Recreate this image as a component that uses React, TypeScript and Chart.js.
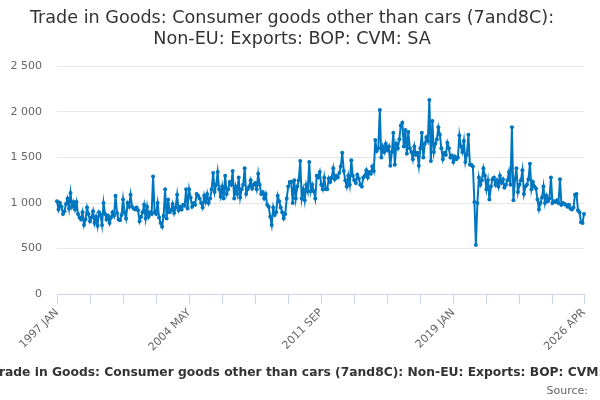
import { useEffect, useRef } from "react"
import { Chart, registerables } from "chart.js"

Chart.register(...registerables)

const TITLE_LINES = [
  "Trade in Goods: Consumer goods other than cars (7and8C):",
  "Non-EU: Exports: BOP: CVM: SA",
]
const CAPTION = "Trade in Goods: Consumer goods other than cars (7and8C): Non-EU: Exports: BOP: CVM: SA"
const SOURCE = "Source:"

const FIRST_YEAR = 1997
const MONTHS = ["JAN", "FEB", "MAR", "APR", "MAY", "JUN", "JUL", "AUG", "SEP", "OCT", "NOV", "DEC"]

// monthly values, Jan 1997 .. Apr 2026 (one row per year)
const exportsValues = [
  1020, 930, 1000, 960, 880, 910, 990, 1050, 940, 1110, 960, 1010,
  930, 1010, 880, 840, 820, 900, 760, 820, 950, 880, 800, 840,
  910, 780, 850, 750, 900, 870, 760, 1000, 880, 820, 860, 780,
  840, 900, 860, 1080, 890, 820, 810, 870, 1040, 900, 830, 1000,
  960, 1090, 960, 940, 930, 950, 920, 800, 850, 900, 980, 830,
  960, 850, 900, 880, 1290, 900, 880, 1000, 840, 780, 740, 860,
  1150, 830, 1040, 900, 920, 990, 890, 950, 1090, 920, 960, 930,
  980, 970, 1150, 940, 1150, 1060, 960, 1000, 980, 1100, 1080, 1050,
  1000, 950, 1080, 1010, 1100, 1000, 1050, 1150, 1330, 1120, 1200, 1340,
  1150, 1070, 1180, 1050, 1300, 1100, 1150, 1230, 1200, 1350, 1050, 1180,
  1100, 1280, 1060, 1150, 1200, 1380, 1100, 1150, 1180, 1250, 1160, 1200,
  1220, 1150, 1320, 1200, 1100, 1120, 1050, 1100, 980, 960, 850, 760,
  950, 870, 900, 1080, 1020, 950, 900, 830, 880, 1050, 1180, 1230,
  1230, 1000, 1250, 1050, 1180, 1250, 1460, 1050, 1150, 1030, 1200, 1130,
  1450, 1130, 1200, 1130, 1050, 1300, 1280, 1340, 1200, 1150, 1280, 1150,
  1150, 1270, 1230, 1280, 1380, 1260, 1300, 1280, 1330, 1400, 1550, 1350,
  1250, 1180, 1300, 1200, 1470, 1300, 1250, 1220, 1310, 1270, 1200, 1180,
  1280, 1300, 1360, 1280, 1340, 1320, 1400, 1350, 1690, 1570, 1600, 2020,
  1500, 1620, 1560, 1650, 1580, 1620, 1410, 1560, 1770, 1420, 1650, 1600,
  1700, 1850, 1880, 1620, 1800, 1540, 1780, 1600, 1560, 1480, 1620, 1530,
  1550, 1410, 1600, 1770, 1500, 1650, 1720, 1680, 2130, 1460, 1900, 1560,
  1650, 1700, 1830, 1750, 1600, 1480, 1550, 1530, 1660, 1600, 1500, 1520,
  1450, 1510, 1480, 1500, 1740, 1620, 1560, 1680, 1450, 1530, 1750, 1420,
  1420, 1400, 1010, 540, 1000, 1280, 1200, 1250, 1380, 1300, 1150, 1250,
  1040, 1180, 1260, 1280, 1200, 1250, 1180, 1300, 1220, 1260, 1170, 1200,
  1250, 1340, 1200, 1830, 1030, 1260, 1380, 1120, 1200, 1250, 1360, 1100,
  1180, 1200, 1260, 1430, 1150, 1230, 1180, 1160, 1040, 930, 1000, 1060,
  1180, 1000, 1080, 1020, 1050, 1280, 1000, 1020, 1010, 1030, 1000, 1260,
  980, 1000, 990, 980, 960, 980, 940, 930, 950, 1090, 1100, 920,
  900, 790, 780, 880,
]

const monthLabels = exportsValues.map(
  (_, i) => `${FIRST_YEAR + Math.floor(i / 12)} ${MONTHS[i % 12]}`
)

const FONT = "'DejaVu Sans', sans-serif"

// draws the caption and source line under the axis
const footerPlugin = {
  id: "footer",
  afterDraw(chart: Chart) {
    const { ctx } = chart
    ctx.save()
    ctx.textBaseline = "middle"
    ctx.fillStyle = "#333333"
    ctx.font = `bold 12.3px ${FONT}`
    ctx.textAlign = "center"
    ctx.fillText(CAPTION, 309, 373)
    ctx.fillStyle = "#666666"
    ctx.font = `11px ${FONT}`
    ctx.textAlign = "right"
    ctx.fillText(SOURCE, 588, 391)
    ctx.restore()
  },
}

export default function App() {
  const canvasRef = useRef<HTMLCanvasElement>(null)

  useEffect(() => {
    document.body.style.margin = "0"
    if (!canvasRef.current) return
    const last = exportsValues.length - 1

    const chart = new Chart(canvasRef.current, {
      type: "line",
      data: {
        labels: monthLabels,
        datasets: [
          {
            data: exportsValues,
            borderColor: "#0076c0",
            backgroundColor: "#0076c0",
            borderWidth: 2,
            pointRadius: 2,
            pointBorderWidth: 0,
            tension: 0,
          },
        ],
      },
      options: {
        animation: false,
        responsive: true,
        maintainAspectRatio: false,
        layout: { padding: { left: 0, right: 16, bottom: 44 } },
        plugins: {
          legend: { display: false },
          tooltip: { enabled: false },
          title: {
            display: true,
            text: TITLE_LINES,
            color: "#333333",
            font: { family: FONT, size: 17.6, weight: "normal", lineHeight: 1.2 },
            padding: { top: 8, bottom: 16 },
          },
        },
        scales: {
          x: {
            type: "category",
            offset: false,
            border: { color: "#ccd6eb", width: 1 },
            grid: {
              drawOnChartArea: false,
              drawTicks: true,
              tickLength: 10,
              color: "#ccd6eb",
            },
            ticks: {
              autoSkip: false,
              maxRotation: 45,
              minRotation: 45,
              padding: 2,
              color: "#666666",
              font: { family: FONT, size: 11 },
              callback: (_v, i) => {
                if (i % 88 === 0 || i === last) return monthLabels[i]
                if (i % 22 === 0 && i <= 330) return ""
                return null
              },
            },
          },
          y: {
            min: 0,
            max: 2500,
            border: { display: false },
            grid: { color: "#e6e6e6", drawTicks: false },
            afterFit: (scale) => {
              scale.width = 57
            },
            ticks: {
              stepSize: 500,
              padding: 15,
              color: "#666666",
              font: { family: FONT, size: 11 },
              callback: (v) => String(v).replace(/\B(?=(\d{3})+(?!\d))/g, " "),
            },
          },
        },
      },
      plugins: [footerPlugin],
    })

    return () => chart.destroy()
  }, [])

  return (
    <div style={{ position: "relative", width: 600, height: 400 }}>
      <canvas ref={canvasRef} />
    </div>
  )
}
